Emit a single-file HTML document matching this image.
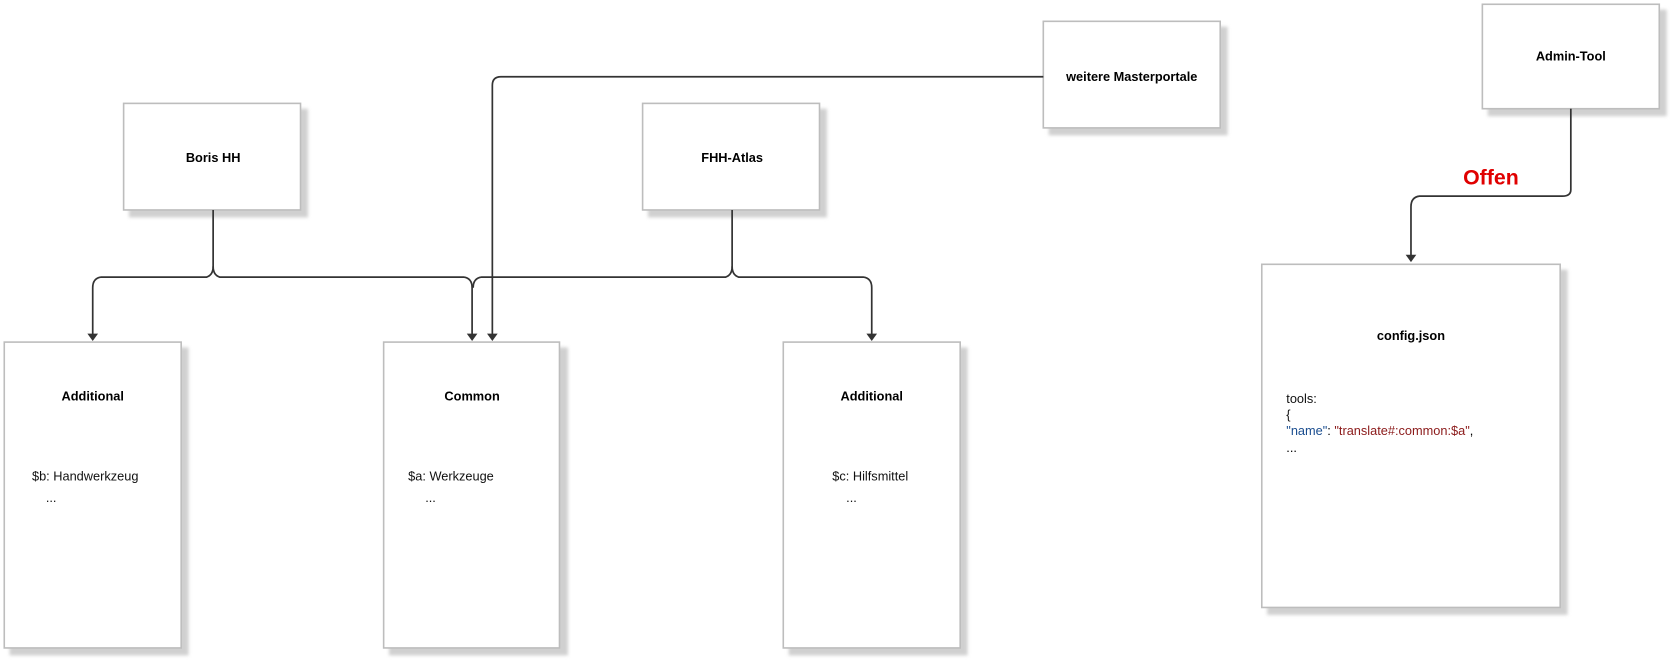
<!DOCTYPE html>
<html><head><meta charset="utf-8"><style>
html,body{margin:0;padding:0;background:#fff;}
svg{display:block;}
text{font-family:"Liberation Sans","DejaVu Sans",sans-serif;}
</style></head><body>
<svg width="1671" height="660" viewBox="0 0 1568 619.3" xmlns="http://www.w3.org/2000/svg">
<defs>
<filter id="b" x="-10%" y="-10%" width="130%" height="130%"><feGaussianBlur stdDeviation="1.5"/></filter>
</defs>
<g fill="#d0d0d0" filter="url(#b)">
<rect x="121" y="102" width="168" height="102"/>
<rect x="608" y="102" width="168" height="102"/>
<rect x="984" y="25" width="168" height="102"/>
<rect x="1396" y="9" width="168" height="100"/>
<rect x="9" y="326" width="168" height="289"/>
<rect x="365" y="326" width="168" height="289"/>
<rect x="740" y="326" width="168" height="289"/>
<rect x="1189" y="253" width="282" height="324"/>
</g>
<g fill="#fff" stroke="#bdbdbd" stroke-width="1.5">
<rect x="116" y="97" width="166" height="100"/>
<rect x="603" y="97" width="166" height="100"/>
<rect x="979" y="20" width="166" height="100"/>
<rect x="1391" y="4" width="166" height="98"/>
<rect x="4" y="321" width="166" height="287"/>
<rect x="360" y="321" width="165" height="287"/>
<rect x="735" y="321" width="166" height="287"/>
<rect x="1184" y="248" width="280" height="322"/>
</g>
<g fill="none" stroke="#333" stroke-width="1.6">
<path d="M200,197 V250 Q200,258 194,260 H95 Q87,261 87,270 V314"/>
<path d="M200,250 Q200,258 206,260 H435 Q443,261 443,270 V314"/>
<path d="M687,197 V250 Q687,258 681,260 H452 Q444,261 444,270"/>
<path d="M687,250 Q687,258 693,260 H810 Q818,261 818,270 V314"/>
<path d="M979,72 H470 Q462,72 462,80 V314"/>
<path d="M1474,102 V178 Q1474,184 1466,184 H1332 Q1324,185 1324,194 V240"/>
</g>
<g fill="#333">
<path d="M82,313 h10 l-5,7z"/>
<path d="M438,313 h10 l-5,7z"/>
<path d="M457,313 h10 l-5,7z"/>
<path d="M813,313 h10 l-5,7z"/>
<path d="M1319,239 h10 l-5,7z"/>
</g>
<g font-size="12" font-weight="bold" text-anchor="middle" fill="#000">
<text x="200" y="152">Boris HH</text>
<text x="687" y="152">FHH-Atlas</text>
<text x="1062" y="76">weitere Masterportale</text>
<text x="1474" y="57">Admin-Tool</text>
<text x="87" y="376">Additional</text>
<text x="443" y="376">Common</text>
<text x="818" y="376">Additional</text>
<text x="1324" y="319">config.json</text>
</g>
<text x="1399" y="173" font-size="20" font-weight="bold" fill="#e00000" text-anchor="middle">Offen</text>
<g font-size="12" fill="#111">
<text x="30" y="451">$b: Handwerkzeug</text>
<text x="43" y="471">...</text>
<text x="383" y="451">$a: Werkzeuge</text>
<text x="399" y="471">...</text>
<text x="781" y="451">$c: Hilfsmittel</text>
<text x="794" y="471">...</text>
<text x="1207" y="378">tools:</text>
<text x="1207" y="393">{</text>
</g>
<text x="1207" y="408" font-size="12" font-family="Liberation Mono,monospace"><tspan fill="#1a4d8f">"name"</tspan><tspan fill="#000">: </tspan><tspan fill="#8b1a1a">"translate#:common:$a"</tspan><tspan fill="#000">,</tspan></text>
<text x="1207" y="424" font-size="12" font-family="Liberation Mono,monospace" fill="#000">...</text>
</svg>
</body></html>
